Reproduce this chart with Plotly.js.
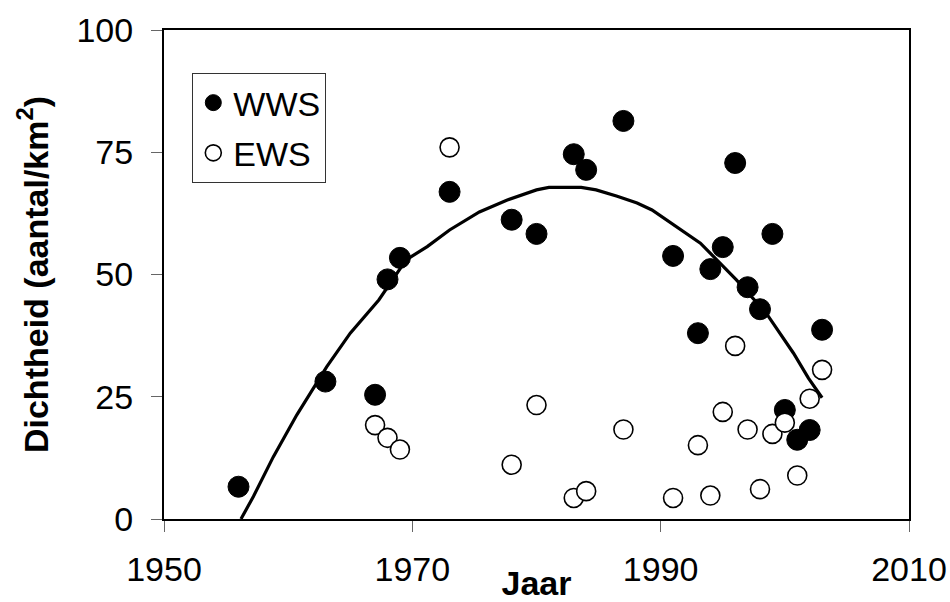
<!DOCTYPE html>
<html>
<head>
<meta charset="utf-8">
<script src="https://cdn.plot.ly/plotly-3.0.1.min.js"></script>
<style>html,body{margin:0;padding:0;background:#fff;}#chart{width:950px;height:602px;}</style>
</head>
<body>
<div id="chart"></div>
<script>
// WWS (filled circles)
var wwsYears = [1956, 1963, 1967, 1968, 1969, 1973, 1978, 1980, 1983, 1984, 1987, 1991, 1993, 1994, 1995, 1996, 1997, 1998, 1999, 2000, 2001, 2002, 2003];
var wwsValues = [6.6, 28.1, 25.4, 49.0, 53.4, 66.9, 61.2, 58.3, 74.6, 71.4, 81.4, 53.8, 38.0, 51.1, 55.6, 72.8, 47.4, 42.9, 58.3, 22.3, 16.2, 18.2, 38.7];

// EWS (open circles)
var ewsYears = [1967, 1968, 1969, 1973, 1978, 1980, 1983, 1984, 1987, 1991, 1993, 1994, 1995, 1996, 1997, 1998, 1999, 2000, 2001, 2002, 2003];
var ewsValues = [19.2, 16.6, 14.2, 76.0, 11.1, 23.3, 4.3, 5.7, 18.3, 4.3, 15.1, 4.8, 21.9, 35.4, 18.3, 6.1, 17.4, 19.7, 8.9, 24.6, 30.5];

// Trend line
var trendYears = [1956.2, 1957.2, 1958.8, 1960.7, 1963.1, 1965.0, 1967.3, 1969.5, 1971.2, 1973.0, 1975.4, 1977.6, 1980.0, 1981.0, 1983.6, 1984.8, 1986.5, 1988.1, 1989.3, 1991.8, 1993.2, 1994.6, 1996.1, 1998.5, 2000.7, 2001.9, 2003.0];
var trendValues = [0, 4.6, 12.7, 21.3, 31.1, 38.0, 44.8, 53.0, 55.7, 59.1, 62.8, 65.2, 67.3, 67.8, 67.8, 67.3, 66.0, 64.6, 63.2, 58.8, 56.4, 52.8, 48.9, 42.1, 33.9, 28.8, 24.8];

// Tick labels
var xTicks = [1950, 1970, 1990, 2010];
var yTicks = [0, 25, 50, 75, 100];

var FONT = 'Liberation Sans, Arial, sans-serif';

var traces = [
  {
    x: trendYears, y: trendValues, type: 'scatter', mode: 'lines',
    line: {color: '#000', width: 3.2}, showlegend: false, hoverinfo: 'skip'
  },
  {
    x: wwsYears, y: wwsValues, type: 'scatter', mode: 'markers', name: 'WWS',
    legendgroup: 'a',
    marker: {symbol: 'circle', size: 21, color: '#000', line: {color: '#000', width: 1}}
  },
  {
    x: ewsYears, y: ewsValues, type: 'scatter', mode: 'markers', name: 'EWS',
    legendgroup: 'b',
    marker: {symbol: 'circle', size: 19, color: '#fff', line: {color: '#000', width: 1.6}}
  }
];

var layout = {
  width: 950, height: 602,
  margin: {l: 164, r: 41, t: 30, b: 83, pad: 0},
  paper_bgcolor: '#fff', plot_bgcolor: '#fff',
  showlegend: true,
  legend: {
    x: 0.038, y: 0.912, xanchor: 'left', yanchor: 'top',
    bgcolor: '#fff', bordercolor: '#333', borderwidth: 1,
    font: {family: FONT, size: 34, color: '#000'},
    traceorder: 'grouped', tracegroupgap: 3,
    itemsizing: 'trace'
  },
  xaxis: {
    range: [1950, 2010], tickvals: xTicks, ticktext: xTicks.map(String),
    showgrid: false, zeroline: false,
    showline: true, linecolor: '#000', linewidth: 2, mirror: true,
    ticks: 'outside', ticklen: 11, tickwidth: 1, tickcolor: '#666',
    ticklabelstandoff: 8,
    tickfont: {family: FONT, size: 34, color: '#000'},
    title: {text: '<b>Jaar</b>', font: {family: FONT, size: 34, color: '#000'}, standoff: 3},
    automargin: false
  },
  yaxis: {
    range: [0, 100], tickvals: yTicks, ticktext: yTicks.map(String),
    showgrid: false, zeroline: false,
    showline: true, linecolor: '#000', linewidth: 2, mirror: true,
    ticks: 'outside', ticklen: 11, tickwidth: 1, tickcolor: '#666',
    ticklabelstandoff: 11,
    tickfont: {family: FONT, size: 34, color: '#000'},
    title: {text: '<b>Dichtheid (aantal/km<sup>2</sup>)</b>', font: {family: FONT, size: 34, color: '#000'}, standoff: 18},
    automargin: false
  }
};

Plotly.newPlot('chart', traces, layout, {displayModeBar: false, staticPlot: true});
</script>
</body>
</html>
